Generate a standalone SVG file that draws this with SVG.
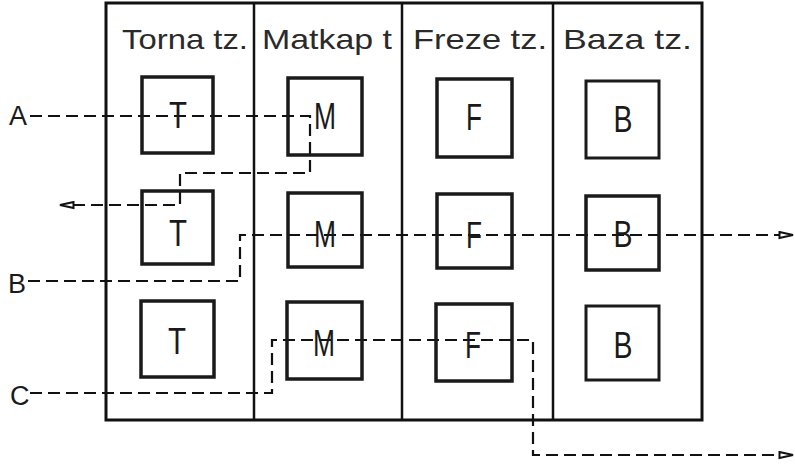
<svg xmlns="http://www.w3.org/2000/svg" width="795" height="465" viewBox="0 0 795 465">
<style>
.frame{fill:none;stroke:#111;stroke-width:3}
.div{stroke:#111;stroke-width:2.5}
.box{fill:none;stroke:#1a1a1a;stroke-width:3.5}
.hdr{font-family:"Liberation Sans",Arial,sans-serif;font-size:28px;fill:#2a2a2a}
.let{font-family:"Liberation Sans",Arial,sans-serif;font-size:36px;fill:#1a1a1a;text-anchor:middle}
.lbl{font-family:"Liberation Sans",Arial,sans-serif;font-size:27px;fill:#1a1a1a}
.dash{fill:none;stroke:#111;stroke-width:2.2;stroke-dasharray:12 6}
</style>
<defs>
<marker id="arr" viewBox="0 0 16 9" refX="15" refY="4.5" markerWidth="16" markerHeight="9" markerUnits="userSpaceOnUse" orient="auto">
<path d="M1.5,1.5 L15,4.5 L1.5,7.5 Z" fill="#fff" stroke="#111" stroke-width="2"/>
</marker>
</defs>
<rect width="795" height="465" fill="#fff"/>
<g id="frame">
<rect class="frame" x="106" y="3" width="596" height="417"/>
<line class="div" x1="254" y1="3" x2="254" y2="420"/>
<line class="div" x1="402" y1="3" x2="402" y2="420"/>
<line class="div" x1="553" y1="3" x2="553" y2="420"/>
</g>
<g id="headers">
<text class="hdr" x="122" y="49" textLength="126" lengthAdjust="spacingAndGlyphs">Torna tz.</text>
<text class="hdr" x="262" y="49" textLength="130" lengthAdjust="spacingAndGlyphs">Matkap t</text>
<text class="hdr" x="413" y="49" textLength="134" lengthAdjust="spacingAndGlyphs">Freze tz.</text>
<text class="hdr" x="563" y="49" textLength="129" lengthAdjust="spacingAndGlyphs">Baza tz.</text>
</g>
<g id="connectors">
<path class="dash" d="M30 116 H310 V173 H180 V205 H60" marker-end="url(#arr)"/>
<path class="dash" d="M28 281 H240 V235 H793" marker-end="url(#arr)"/>
<path class="dash" d="M30 393 H272 V340 H533 V455 H793" marker-end="url(#arr)"/>
</g>
<g id="labels">
<text class="lbl" x="9" y="125">A</text>
<text class="lbl" x="8" y="293">B</text>
<text class="lbl" x="10" y="405">C</text>
</g>
<g id="T1"><rect class="box" x="142" y="77" width="71" height="76"/><text class="let" x="178" y="128" textLength="18" lengthAdjust="spacingAndGlyphs">T</text></g>
<g id="M1"><rect class="box" x="288" y="78" width="74" height="77"/><text class="let" x="325" y="129" textLength="22" lengthAdjust="spacingAndGlyphs">M</text></g>
<g id="F1"><rect class="box" x="437" y="79" width="75" height="78"/><text class="let" x="474" y="130" textLength="16" lengthAdjust="spacingAndGlyphs">F</text></g>
<g id="B1"><rect class="box" x="586" y="81" width="73" height="77" style="stroke-width:3"/><text class="let" x="623" y="132" textLength="19" lengthAdjust="spacingAndGlyphs">B</text></g>
<g id="T2"><rect class="box" x="142" y="191" width="71" height="73"/><text class="let" x="178" y="246" textLength="18" lengthAdjust="spacingAndGlyphs">T</text></g>
<g id="M2"><rect class="box" x="288" y="193" width="74" height="74"/><text class="let" x="325" y="247" textLength="22" lengthAdjust="spacingAndGlyphs">M</text></g>
<g id="F2"><rect class="box" x="437" y="194" width="75" height="74"/><text class="let" x="474" y="248" textLength="16" lengthAdjust="spacingAndGlyphs">F</text></g>
<g id="B2"><rect class="box" x="586" y="196" width="73" height="74"/><text class="let" x="623" y="247" textLength="19" lengthAdjust="spacingAndGlyphs">B</text></g>
<g id="T3"><rect class="box" x="141" y="301" width="73" height="76"/><text class="let" x="177" y="354" textLength="18" lengthAdjust="spacingAndGlyphs">T</text></g>
<g id="M3"><rect class="box" x="287" y="302" width="75" height="77"/><text class="let" x="324" y="356" textLength="22" lengthAdjust="spacingAndGlyphs">M</text></g>
<g id="F3"><rect class="box" x="436" y="304" width="76" height="77"/><text class="let" x="473" y="358" textLength="16" lengthAdjust="spacingAndGlyphs">F</text></g>
<g id="B3"><rect class="box" x="586" y="306" width="73" height="74" style="stroke-width:3"/><text class="let" x="623" y="358" textLength="19" lengthAdjust="spacingAndGlyphs">B</text></g>
</svg>
